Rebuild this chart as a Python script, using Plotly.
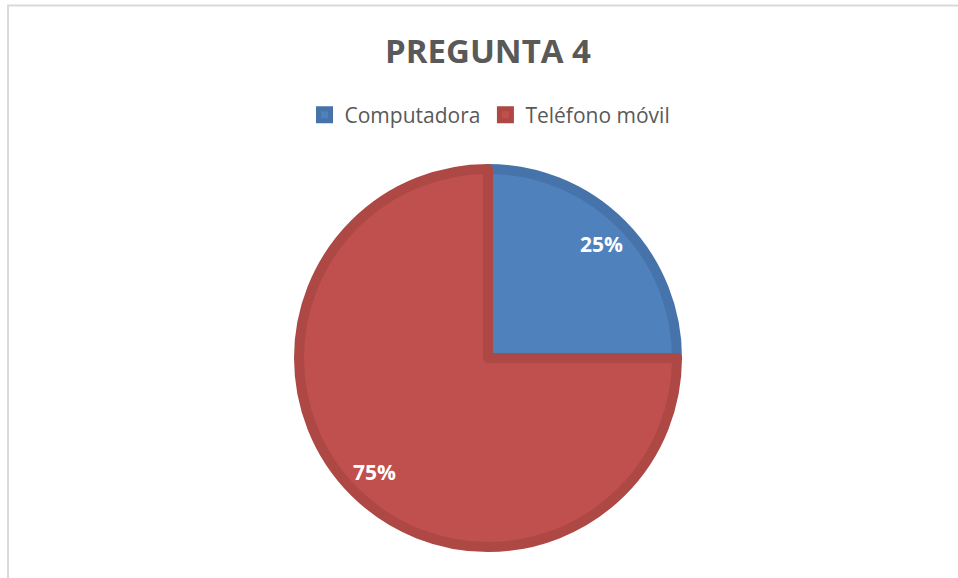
import math
import plotly.graph_objects as go

labels = ["Computadora", "Teléfono móvil"]
values = [25, 75]
fill_colors = ["#4F81BD", "#C0504D"]
edge_colors = ["#4673AA", "#AD4845"]

W, H = 958, 578

# pie geometry in pixels (centre and outer radius incl. border)
cx, cy, R = 488, 358, 194
border = 10
r_fill = R - border / 2

fig = go.Figure()

fig.add_trace(
    go.Pie(
        labels=labels,
        values=values,
        sort=False,
        direction="clockwise",
        rotation=0,
        marker=dict(colors=fill_colors, line=dict(color=edge_colors, width=border)),
        textinfo="none",
        domain=dict(
            x=[(cx - r_fill) / W, (cx + r_fill) / W],
            y=[1 - (cy + r_fill) / H, 1 - (cy - r_fill) / H],
        ),
        hoverinfo="label+percent",
    )
)

# percentage labels, placed at ~83% of the radius on each slice's mid angle
total = sum(values)
cum = 0
for v in values:
    theta = 2 * math.pi * (cum + v / 2) / total
    cum += v
    px_x = cx + 0.83 * R * math.sin(theta)
    px_y = cy - 0.83 * R * math.cos(theta)
    fig.add_annotation(
        x=px_x / W,
        y=1 - px_y / H,
        xref="paper",
        yref="paper",
        xanchor="center",
        yanchor="middle",
        text="{:.0%}".format(v / total),
        showarrow=False,
        font=dict(family="Open Sans", size=21, color="white", weight="bold"),
    )

# light chart frame (only top and left edges visible in the crop)
fig.add_shape(
    type="path",
    path="M {:.4f} 0 L {:.4f} {:.4f} L 1 {:.4f}".format(
        8 / W, 8 / W, 1 - 5.5 / H, 1 - 5.5 / H
    ),
    xref="paper",
    yref="paper",
    line=dict(color="#D9D9D9", width=2),
)

fig.update_layout(
    width=W,
    height=H,
    margin=dict(l=0, r=0, t=0, b=0),
    paper_bgcolor="white",
    plot_bgcolor="white",
    title=dict(
        text="PREGUNTA 4",
        x=488 / W,
        xanchor="center",
        y=1 - 51 / H,
        yanchor="middle",
        font=dict(family="Open Sans", size=33, color="#595959", weight="bold"),
    ),
    showlegend=True,
    legend=dict(
        orientation="h",
        x=490 / W,
        xanchor="center",
        y=1 - 115 / H,
        yanchor="middle",
        font=dict(family="Open Sans", size=21, color="#595959"),
        itemclick=False,
        itemdoubleclick=False,
    ),
)

fig.write_html(
    "out.html",
    config={"displayModeBar": False},
    post_script="document.body.style.margin = '0';",
)
